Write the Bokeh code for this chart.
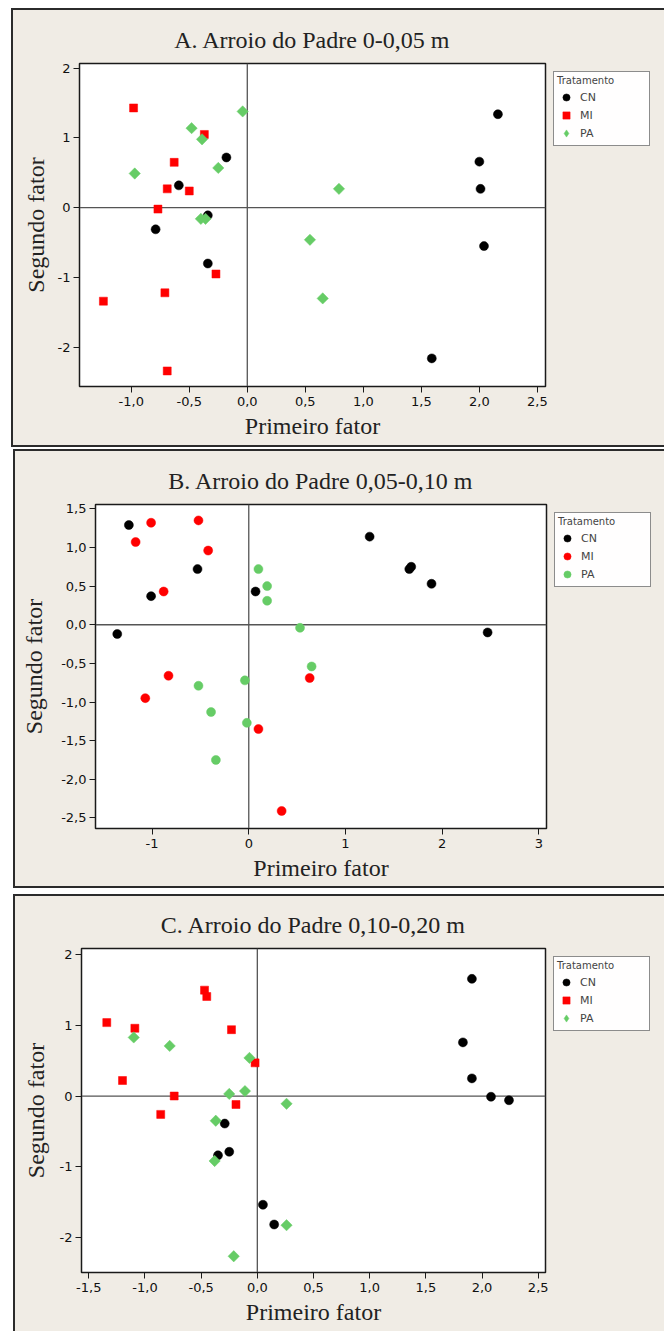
import math
from bokeh.plotting import figure
from bokeh.models import Span, Legend, LegendItem, FixedTicker, Range1d
from bokeh.embed import file_html
from bokeh.resources import INLINE

# ---------------- data ----------------
tratamentos = ["CN", "MI", "PA"]

a_title = "A. Arroio do Padre 0-0,05 m"
a_cn_x = [2.16, 2.00, 2.01, 2.04, 1.59, -0.18, -0.59, -0.34, -0.79, -0.34]
a_cn_y = [1.34, 0.66, 0.27, -0.55, -2.16, 0.72, 0.32, -0.11, -0.31, -0.80]
a_mi_x = [-0.98, -0.37, -0.63, -0.69, -0.50, -0.77, -0.27, -0.71, -1.24, -0.69]
a_mi_y = [1.43, 1.05, 0.65, 0.27, 0.24, -0.02, -0.95, -1.22, -1.34, -2.34]
a_pa_x = [-0.04, -0.48, -0.39, -0.25, -0.97, 0.79, -0.40, -0.36, 0.54, 0.65]
a_pa_y = [1.38, 1.14, 0.98, 0.57, 0.49, 0.27, -0.16, -0.16, -0.46, -1.30]
a_xticks = [-1.0, -0.5, 0.0, 0.5, 1.0, 1.5, 2.0, 2.5]
a_xlabels = ["-1,0", "-0,5", "0,0", "0,5", "1,0", "1,5", "2,0", "2,5"]
a_yticks = [-2, -1, 0, 1, 2]
a_ylabels = ["-2", "-1", "0", "1", "2"]

b_title = "B. Arroio do Padre 0,05-0,10 m"
b_cn_x = [-1.24, 1.25, -0.53, 1.66, 1.68, 1.89, -1.01, 0.07, -1.36, 2.47]
b_cn_y = [1.29, 1.14, 0.72, 0.72, 0.75, 0.53, 0.37, 0.43, -0.12, -0.10]
b_mi_x = [-1.01, -0.52, -1.17, -0.42, -0.88, -0.83, -1.07, 0.63, 0.10, 0.34]
b_mi_y = [1.32, 1.35, 1.07, 0.96, 0.43, -0.66, -0.95, -0.69, -1.35, -2.41]
b_pa_x = [0.10, 0.19, 0.19, 0.53, 0.65, -0.04, -0.52, -0.39, -0.02, -0.34]
b_pa_y = [0.72, 0.50, 0.31, -0.04, -0.54, -0.72, -0.79, -1.13, -1.27, -1.75]
b_xticks = [-1, 0, 1, 2, 3]
b_xlabels = ["-1", "0", "1", "2", "3"]
b_yticks = [-2.5, -2.0, -1.5, -1.0, -0.5, 0.0, 0.5, 1.0, 1.5]
b_ylabels = ["-2,5", "-2,0", "-1,5", "-1,0", "-0,5", "0,0", "0,5", "1,0", "1,5"]

c_title = "C. Arroio do Padre 0,10-0,20 m"
c_cn_x = [1.91, 1.83, 1.91, 2.08, 2.24, -0.29, -0.35, -0.25, 0.05, 0.15]
c_cn_y = [1.66, 0.76, 0.25, -0.01, -0.06, -0.39, -0.84, -0.79, -1.54, -1.82]
c_mi_x = [-0.47, -0.45, -1.34, -1.09, -0.23, -0.02, -1.20, -0.74, -0.19, -0.86]
c_mi_y = [1.50, 1.41, 1.04, 0.96, 0.94, 0.47, 0.22, 0.00, -0.12, -0.26]
c_pa_x = [-1.10, -0.78, -0.07, -0.11, -0.25, 0.26, -0.37, -0.38, 0.26, -0.21]
c_pa_y = [0.83, 0.71, 0.54, 0.07, 0.03, -0.11, -0.35, -0.92, -1.83, -2.27]
c_xticks = [-1.5, -1.0, -0.5, 0.0, 0.5, 1.0, 1.5, 2.0, 2.5]
c_xlabels = ["-1,5", "-1,0", "-0,5", "0,0", "0,5", "1,0", "1,5", "2,0", "2,5"]
c_yticks = [-2, -1, 0, 1, 2]
c_ylabels = ["-2", "-1", "0", "1", "2"]

x_label = "Primeiro fator"
y_label = "Segundo fator"
legend_title = "Tratamento"

# ---------------- styling ----------------
BG = "#F0ECE5"
EDGE = "#2b2b2b"
COLORS = {"CN": "#000000", "MI": "#FF0000", "PA": "#66CC66"}
SERIF = "Liberation Serif"
SANS = "DejaVu Sans"


def make_panel(title, series, xr, yr, xt, xl, yt, yl, frame, mb, margin,
               ylab_standoff=6, xlab_standoff=4, bottom_edge=True):
    left, top, bottom = mb
    fw, fh = frame
    p = figure(frame_width=fw, frame_height=fh,
               x_range=Range1d(*xr), y_range=Range1d(*yr),
               output_backend="svg", toolbar_location=None,
               min_border_left=left, min_border_right=0,
               min_border_top=top, min_border_bottom=bottom,
               background_fill_color="white", border_fill_color=None,
               outline_line_color="#1a1a1a", outline_line_width=1.5,
               title=title)
    p.margin = margin
    shadows = [f"inset 2px 0 0 {EDGE}", f"inset 0 2px 0 {EDGE}"]
    if bottom_edge:
        shadows.append(f"inset 0 -2px 0 {EDGE}")
    shadows.append(f"14px 0 0 0 {BG}")
    p.styles = {"background-color": BG, "box-shadow": ", ".join(shadows)}
    p.title.align = "center"
    p.title.vertical_align = "top"
    p.title.text_font = SERIF
    p.title.text_font_size = "24px"
    p.title.text_font_style = "normal"
    p.title.text_color = "#222222"
    p.title.standoff = 18
    p.xgrid.visible = False
    p.ygrid.visible = False

    for ax, ticks, labels in ((p.xaxis[0], xt, xl), (p.yaxis[0], yt, yl)):
        ax.ticker = FixedTicker(ticks=ticks)
        ax.major_label_overrides = {t: s for t, s in zip(ticks, labels)}
        ax.major_label_text_font = SANS
        ax.major_label_text_font_size = "13px"
        ax.major_label_text_color = "#111111"
        ax.major_tick_in = 0
        ax.major_tick_out = 6
        ax.major_tick_line_color = "#1a1a1a"
        ax.minor_tick_line_color = None
        ax.axis_line_color = "#1a1a1a"
        ax.axis_label_text_font = SERIF
        ax.axis_label_text_font_size = "24px"
        ax.axis_label_text_font_style = "normal"
        ax.axis_label_text_color = "#222222"
    p.xaxis.axis_label = x_label
    p.yaxis.axis_label = y_label
    p.xaxis.major_label_standoff = 4
    p.yaxis.major_label_standoff = 3
    p.xaxis.axis_label_standoff = xlab_standoff
    p.yaxis.axis_label_standoff = ylab_standoff

    for dim in ("height", "width"):
        s = Span(location=0, dimension=dim, line_color="#555555", line_width=1.3)
        s.level = "underlay"
        p.add_layout(s)

    items = []
    for name, xs, ys, marker, size, angle, leg_marker in series:
        r = p.scatter(xs, ys, marker=marker, size=size, angle=angle,
                      fill_color=COLORS[name], line_color=COLORS[name], line_width=0.5)
        if leg_marker != marker:
            # hidden twin of the series, only used for the legend symbol (diamond)
            twin = p.scatter(xs, ys, marker=leg_marker, size=size,
                             fill_color=COLORS[name], line_color=COLORS[name],
                             line_width=0.5, visible=False)
            items.append(LegendItem(label=name, renderers=[twin]))
        else:
            items.append(LegendItem(label=name, renderers=[r]))

    lg = Legend(items=items, title=legend_title, location="top_left")
    lg.background_fill_color = "white"
    lg.border_line_color = "#1a1a1a"
    lg.border_line_width = 1.5
    lg.title_text_font = SANS
    lg.title_text_font_size = "10px"
    lg.title_text_font_style = "normal"
    lg.label_text_font = SANS
    lg.label_text_font_size = "11px"
    lg.glyph_width = 18
    lg.glyph_height = 18
    lg.label_height = 16
    lg.label_width = 66
    lg.label_standoff = 5
    lg.spacing = 0
    lg.padding = 3
    lg.title_standoff = 2
    lg.margin = 8
    lg.click_policy = "none"
    p.add_layout(lg, "right")
    return p


D = math.pi / 4
pA = make_panel(a_title,
                [("CN", a_cn_x, a_cn_y, "circle", 9, 0, "circle"),
                 ("MI", a_mi_x, a_mi_y, "square", 8, 0, "square"),
                 ("PA", a_pa_x, a_pa_y, "square", 8, D, "diamond")],
                (-1.446, 2.570), (-2.563, 2.067),
                a_xticks, a_xlabels, a_yticks, a_ylabels,
                (466, 323), (68, 55, 61), (8, 0, 0, 11))
pB = make_panel(b_title,
                [("CN", b_cn_x, b_cn_y, "circle", 9, 0, "circle"),
                 ("MI", b_mi_x, b_mi_y, "circle", 9, 0, "circle"),
                 ("PA", b_pa_x, b_pa_y, "circle", 9, 0, "circle")],
                (-1.585, 3.079), (-2.637, 1.556),
                b_xticks, b_xlabels, b_yticks, b_ylabels,
                (451, 324), (82, 55, 60), (2, 0, 0, 13), ylab_standoff=11)
pC = make_panel(c_title,
                [("CN", c_cn_x, c_cn_y, "circle", 9, 0, "circle"),
                 ("MI", c_mi_x, c_mi_y, "square", 8, 0, "square"),
                 ("PA", c_pa_x, c_pa_y, "square", 8, D, "diamond")],
                (-1.565, 2.565), (-2.50, 2.09),
                c_xticks, c_xlabels, c_yticks, c_ylabels,
                (464, 324), (68, 54, 59), (6, 0, 0, 13), ylab_standoff=8,
                bottom_edge=False)

# three independent roots, stacked by the page flow (no frame alignment)
open("out.html", "w").write(file_html([pA, pB, pC], INLINE))
